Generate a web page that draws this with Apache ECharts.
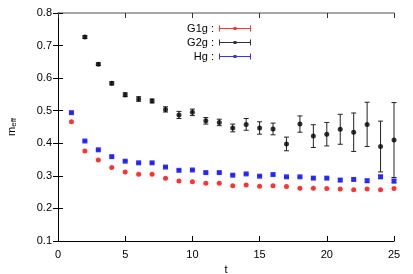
<!DOCTYPE html>
<html>
<head>
<meta charset="utf-8">
<script src="https://cdn.jsdelivr.net/npm/echarts@6/dist/echarts.min.js"></script>
<style>html,body{margin:0;padding:0;background:#fff}#c{width:413px;height:274px}</style>
</head>
<body>
<div id="c"></div>
<script>
var xTicks = [0, 5, 10, 15, 20, 25];
var yTicks = [0.1, 0.2, 0.3, 0.4, 0.5, 0.6, 0.7, 0.8];

var tG1g = [1,2,3,4,5,6,7,8,9,10,11,12,13,14,15,16,17,18,19,20,21,22,23,24,25];
var G1g = [0.466,0.376,0.349,0.326,0.312,0.305,0.305,0.293,0.284,0.282,0.277,0.277,0.270,0.272,0.268,0.270,0.267,0.262,0.262,0.261,0.260,0.257,0.260,0.257,0.261];
var G1gErr = [0.002,0.002,0.002,0.002,0.002,0.002,0.002,0.002,0.002,0.002,0.002,0.002,0.002,0.002,0.002,0.002,0.002,0.002,0.002,0.002,0.002,0.002,0.002,0.002,0.002];

var tHg = [1,2,3,4,5,6,7,8,9,10,11,12,13,14,15,16,17,18,19,20,21,22,23,24,25];
var Hg = [0.494,0.407,0.380,0.359,0.345,0.340,0.340,0.327,0.317,0.318,0.310,0.310,0.302,0.306,0.299,0.304,0.297,0.297,0.293,0.293,0.287,0.289,0.285,0.297,0.284];
var HgErr = [0.002,0.002,0.002,0.002,0.002,0.002,0.002,0.002,0.002,0.002,0.002,0.002,0.002,0.002,0.002,0.002,0.002,0.002,0.003,0.003,0.004,0.004,0.005,0.005,0.006];

var tG2g = [2,3,4,5,6,7,8,9,10,11,12,13,14,15,16,17,18,19,20,21,22,23,24,25];
var G2g = [0.726,0.643,0.584,0.549,0.536,0.530,0.504,0.487,0.495,0.469,0.464,0.447,0.458,0.447,0.444,0.398,0.459,0.422,0.428,0.443,0.434,0.458,0.390,0.410];
var G2gErr = [0.004,0.004,0.005,0.006,0.007,0.006,0.008,0.011,0.010,0.010,0.010,0.012,0.018,0.019,0.018,0.021,0.025,0.035,0.036,0.046,0.059,0.068,0.078,0.115];

function pack(ts, vs, es) {
  return ts.map(function (t, i) { return [t, vs[i], es[i]]; });
}

function errRender(color) {
  return function (params, api) {
    var x = api.value(0), y = api.value(1), e = api.value(2);
    var lo = api.coord([x, y - e]);
    var hi = api.coord([x, y + e]);
    var hw = 2.5;
    var st = { stroke: color, lineWidth: 1 };
    return {
      type: 'group',
      children: [
        { type: 'line', shape: { x1: lo[0], y1: lo[1], x2: hi[0], y2: hi[1] }, style: st },
        { type: 'line', shape: { x1: lo[0] - hw, y1: lo[1], x2: lo[0] + hw, y2: lo[1] }, style: st },
        { type: 'line', shape: { x1: hi[0] - hw, y1: hi[1], x2: hi[0] + hw, y2: hi[1] }, style: st }
      ]
    };
  };
}

var legendIcon = 'path://M0,2.5h32v1h-32z M0,0h1v6h-1z M31,0h1v6h-1z M14.5,1.5h3v3h-3z';
var FONT = 'Liberation Sans, Arial, Helvetica, sans-serif';

var chart = echarts.init(document.getElementById('c'), null, { renderer: 'canvas' });
chart.setOption({
  animation: false,
  backgroundColor: '#fff',
  textStyle: { fontFamily: FONT },
  grid: { left: 58, right: 19, top: 13, bottom: 33, outerBoundsMode: 'none' },
  legend: {
    orient: 'vertical',
    align: 'right',
    right: 162,
    top: 23,
    padding: 0,
    itemWidth: 32,
    itemHeight: 6,
    itemGap: 3,
    formatter: function (n) { return n + ' :'; },
    textStyle: { fontFamily: FONT, fontSize: 11, color: '#000' },
    data: [
      { name: 'G1g', icon: legendIcon },
      { name: 'G2g', icon: legendIcon },
      { name: 'Hg', icon: legendIcon }
    ]
  },
  xAxis: [
    {
      type: 'value', position: 'bottom', min: 0, max: 25, interval: 5,
      name: 't', nameLocation: 'middle', nameGap: 19,
      nameTextStyle: { fontFamily: FONT, fontSize: 11, color: '#000' },
      axisLine: { lineStyle: { color: '#000', width: 1 } },
      axisTick: { inside: true, length: 5, lineStyle: { color: '#000' } },
      axisLabel: { margin: 8, fontFamily: FONT, fontSize: 11, color: '#000',
        formatter: function (v) { return xTicks.indexOf(v) >= 0 ? String(v) : ''; } },
      splitLine: { show: false }
    },
    {
      type: 'value', position: 'top', min: 0, max: 25, interval: 5,
      axisLine: { lineStyle: { color: '#8a8a8a', width: 1.5 } },
      axisTick: { inside: true, length: 5, lineStyle: { color: '#333' } },
      axisLabel: { show: false },
      splitLine: { show: false }
    }
  ],
  yAxis: [
    {
      type: 'value', position: 'left', min: 0.1, max: 0.8, interval: 0.1,
      name: 'm{sub|eff}', nameLocation: 'middle', nameGap: 40, nameRotate: 90,
      nameTextStyle: { fontFamily: FONT, fontSize: 11, color: '#000',
        rich: { sub: { fontFamily: FONT, fontSize: 8, color: '#000', verticalAlign: 'bottom', padding: [5, 0, 0, 0] } } },
      axisLine: { lineStyle: { color: '#000', width: 1 } },
      axisTick: { inside: true, length: 5, lineStyle: { color: '#000' } },
      axisLabel: { margin: 6, fontFamily: FONT, fontSize: 11, color: '#000',
        formatter: function (v) { return v.toFixed(1); } },
      splitLine: { show: false }
    },
    {
      type: 'value', position: 'right', min: 0.1, max: 0.8, interval: 0.1,
      axisLine: { lineStyle: { color: '#000', width: 1 } },
      axisTick: { inside: true, length: 5, lineStyle: { color: '#000' } },
      axisLabel: { show: false },
      splitLine: { show: false }
    }
  ],
  series: [
    {
      name: 'G2g err', type: 'custom', xAxisIndex: 0, yAxisIndex: 0,
      renderItem: errRender('#222'), encode: { x: 0, y: 1 },
      data: pack(tG2g, G2g, G2gErr), z: 1, silent: true, clip: false
    },
    {
      name: 'Hg err', type: 'custom', xAxisIndex: 0, yAxisIndex: 0,
      renderItem: errRender('#9a9aff'), encode: { x: 0, y: 1 },
      data: pack(tHg, Hg, HgErr), z: 1, silent: true, clip: false
    },
    {
      name: 'G1g', type: 'scatter', xAxisIndex: 0, yAxisIndex: 0,
      symbol: 'circle', symbolSize: 5,
      itemStyle: { color: '#ff0000' },
      data: pack(tG1g, G1g, G1gErr), z: 3, clip: false
    },
    {
      name: 'G2g', type: 'scatter', xAxisIndex: 0, yAxisIndex: 0,
      symbol: 'circle', symbolSize: 5,
      itemStyle: { color: '#000000' },
      data: pack(tG2g, G2g, G2gErr), z: 3, clip: false
    },
    {
      name: 'Hg', type: 'scatter', xAxisIndex: 0, yAxisIndex: 0,
      symbol: 'rect', symbolSize: 5,
      itemStyle: { color: '#0000ff' },
      data: pack(tHg, Hg, HgErr), z: 3, clip: false
    }
  ]
});
</script>
</body>
</html>
